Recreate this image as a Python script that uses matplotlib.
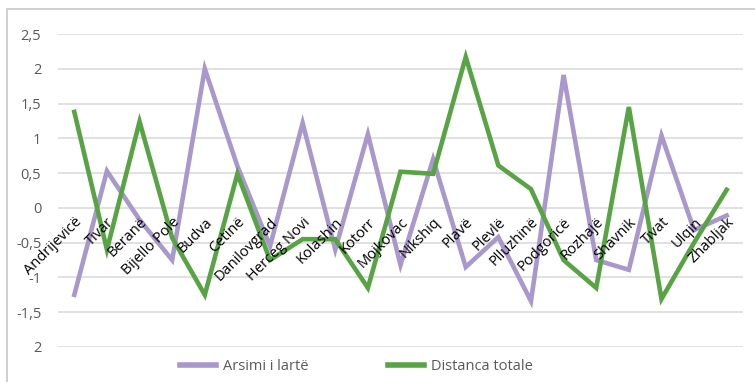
import matplotlib
matplotlib.use("Agg")
import matplotlib.pyplot as plt
from matplotlib.patches import Rectangle
from matplotlib.lines import Line2D

categories = ["Andrijevicë", "Tivar", "Beranë", "Bijello Pole", "Budva", "Cetinë",
              "Danilovgrad", "Herceg Novi", "Kolashin", "Kotorr", "Mojkovac", "Nikshiq",
              "Plavë", "Plevlë", "Plluzhinë", "Podgoricë", "Rozhajë", "Shavnik", "Tivat",
              "Ulqin", "Zhabljak"]
arsimi = [-1.25, 0.53, -0.17, -0.75, 2.0, 0.6, -0.55, 1.22, -0.6, 1.06, -0.82, 0.7,
          -0.85, -0.42, -1.34, 1.91, -0.75, -0.89, 1.04, -0.32, -0.11]
distanca = [1.38, -0.6, 1.24, -0.43, -1.25, 0.49, -0.75, -0.45, -0.45, -1.15, 0.52, 0.49,
            2.17, 0.61, 0.27, -0.75, -1.15, 1.45, -1.31, -0.5, 0.26]
ytick_vals = [2.5, 2, 1.5, 1, 0.5, 0, -0.5, -1, -1.5, -2]
ytick_labels = ["2,5", "2", "1,5", "1", "0,5", "0", "-0,5", "-1", "-1,5", "2"]
series_names = ["Arsimi i lartë", "Distanca totale"]

plt.rcParams['font.family'] = ['Open Sans', 'DejaVu Sans']

W, H = 755, 382
fig = plt.figure(figsize=(W / 100, H / 100), dpi=100)
fig.patches.append(Rectangle((7 / W, -0.05), 1.2, (H - 9) / H + 0.05, transform=fig.transFigure,
                             fill=False, edgecolor="#c8c8c8", linewidth=1.2))

ax = fig.add_axes([58 / W, 35 / H, (743 - 58) / W, (347 - 34) / H])
purple = "#a898cb"
green = "#58a445"
x = list(range(len(categories)))
ax.plot(x, arsimi, color=purple, linewidth=3.3, solid_joinstyle="miter", zorder=2)
ax.plot(x, distanca, color=green, linewidth=3.3, solid_joinstyle="miter", zorder=2.1)
ax.set_axisbelow(False)

ax.set_xlim(-0.5, len(categories) - 0.5)
ax.set_ylim(-2, 2.5)
ax.set_yticks(ytick_vals)
ax.set_yticklabels(ytick_labels)
for v in ytick_vals:
    ax.axhline(v, color="#d9d9d9", linewidth=1.1, zorder=1)

for s in ax.spines.values():
    s.set_visible(False)
ax.spines['bottom'].set_position(('data', 0))
ax.set_xticks(x)
ax.set_xticklabels(categories, rotation=45, ha="right", va="top", rotation_mode="anchor",
                   fontsize=10.5, color="#000000")
ax.tick_params(axis="x", length=0, pad=5)
ax.tick_params(axis="y", length=0, pad=12, labelsize=10.5, labelcolor="#595959")
ax.patch.set_alpha(0)

handles = [Line2D([0], [0], color=purple, linewidth=4),
           Line2D([0], [0], color=green, linewidth=4)]
fig.legend(handles, series_names, loc="center", bbox_to_anchor=(356.5 / W, 1 - 367 / H),
           ncol=2, frameon=False, fontsize=10.5, labelcolor="#595959", handlelength=2.47,
           columnspacing=5.4, handletextpad=0.48)

fig.savefig("out.png", dpi=100)
